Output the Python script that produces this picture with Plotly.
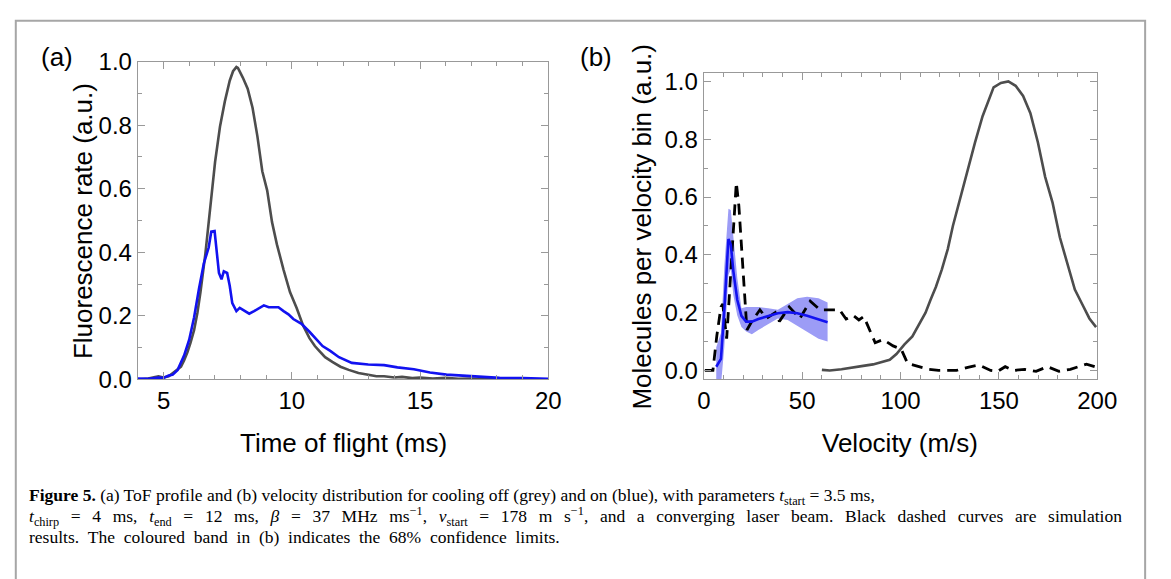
import plotly.graph_objects as go

# ---------------- data ----------------
# (a) time-of-flight profiles
tof_off_t = [4.0, 4.4, 4.8, 5.0, 5.2, 5.36, 5.5, 5.68, 5.8, 5.93, 6.05, 6.19, 6.32, 6.44, 6.63,
             6.82, 7.01, 7.2, 7.39, 7.58, 7.71, 7.84, 7.9, 8.09, 8.28, 8.47, 8.66, 8.85, 9.04,
             9.23, 9.42, 9.68, 9.93, 10.19, 10.44, 10.69, 10.9, 11.07, 11.3, 11.58, 11.9, 12.22,
             12.6, 12.98, 13.3, 13.6, 14.0, 14.3, 14.7, 15.0, 15.5, 16.0, 16.5, 17.0, 17.5,
             18.0, 18.5, 19.0, 19.5, 20.0]
tof_off_y = [0.0, 0.003, 0.01, 0.006, 0.01, 0.02, 0.03, 0.04, 0.06, 0.085, 0.115, 0.155, 0.21,
             0.275, 0.395, 0.545, 0.685, 0.795, 0.875, 0.94, 0.97, 0.983, 0.98, 0.95, 0.915,
             0.855, 0.765, 0.655, 0.595, 0.495, 0.425, 0.345, 0.275, 0.225, 0.17, 0.13, 0.105,
             0.09, 0.07, 0.055, 0.04, 0.03, 0.02, 0.015, 0.01, 0.01, 0.006, 0.008, 0.004, 0.006,
             0.003, 0.005, 0.002, 0.003, 0.001, 0.002, 0.0, 0.001, 0.0, 0.0]

tof_on_t = [4.0, 4.4, 4.8, 5.0, 5.2, 5.36, 5.55, 5.8, 6.0, 6.19, 6.38, 6.57, 6.76, 6.86, 6.99,
            7.07, 7.16, 7.26, 7.35, 7.48, 7.58, 7.68, 7.84, 7.97, 8.15, 8.34, 8.53, 8.72, 8.91,
            9.1, 9.29, 9.48, 9.68, 9.87, 10.06, 10.38, 10.69, 11.2, 11.5, 11.84, 12.34, 12.98,
            13.6, 14.12, 14.76, 15.39, 16.03, 16.66, 17.3, 18.1, 19.0, 20.0]
tof_on_y = [0.003, 0.002, 0.006, 0.005, 0.012, 0.015, 0.03, 0.075, 0.125, 0.195, 0.285, 0.365,
            0.415, 0.465, 0.467, 0.395, 0.335, 0.315, 0.34, 0.335, 0.295, 0.24, 0.215, 0.225,
            0.215, 0.207, 0.215, 0.225, 0.233, 0.227, 0.228, 0.227, 0.215, 0.205, 0.19, 0.175,
            0.15, 0.105, 0.09, 0.07, 0.052, 0.047, 0.045, 0.038, 0.032, 0.022, 0.015, 0.012,
            0.007, 0.005, 0.004, 0.002]

# (b) velocity distributions
vel_off_v = [60, 64, 70, 77, 81, 86, 89.6, 94.5, 97.9, 102, 106, 109.4, 112.7, 115.2, 118, 121,
             124, 126.6, 130.4, 134, 137.9, 141.7, 144.5, 147.3, 151, 154.8, 158.5, 162.3, 166,
             169.8, 173.5, 177.3, 181, 184.8, 188.6, 192.3, 196, 199.4]
vel_off_y = [0.002, 0.0, 0.004, 0.013, 0.016, 0.021, 0.027, 0.037, 0.057, 0.09, 0.118, 0.16, 0.2,
             0.244, 0.29, 0.35, 0.42, 0.5, 0.6, 0.69, 0.79, 0.88, 0.93, 0.98, 0.995, 1.0, 0.985,
             0.95, 0.89, 0.79, 0.67, 0.58, 0.46, 0.37, 0.28, 0.23, 0.18, 0.15]

vel_on_v = [6.3, 8.7, 10.4, 12.5, 13.7, 15.0, 17.0, 19.1, 21.5, 24.4, 27.7, 32.7, 37.6, 42.6,
            47.5, 52.5, 58.3, 62.9]
vel_on_y = [0.013, 0.04, 0.21, 0.455, 0.436, 0.343, 0.244, 0.189, 0.169, 0.169, 0.178, 0.189,
            0.198, 0.202, 0.198, 0.189, 0.176, 0.167]
vel_on_upper = [0.08, 0.13, 0.36, 0.56, 0.555, 0.47, 0.32, 0.215, 0.22, 0.22, 0.22, 0.215, 0.21,
                0.23, 0.25, 0.255, 0.25, 0.235]
vel_on_lower = [-0.05, -0.05, 0.08, 0.33, 0.35, 0.26, 0.19, 0.15, 0.135, 0.125, 0.14, 0.16, 0.18,
                0.175, 0.155, 0.135, 0.11, 0.1]

vel_sim_v = [0.5, 4.6, 6.6, 8.7, 9.6, 11.6, 16.5, 17.8, 21.9, 24.4, 28.5, 31.8, 36.3, 38.4, 43.4,
             48.8, 54.1, 59.1, 64, 69, 72.3, 76, 78.8, 81.3, 87.1, 91.2, 96.2, 100.3, 103.6,
             106.1, 109.4, 114.4, 119.3, 128.4, 134.2, 140, 145.8, 149.4, 153.2, 157.4, 163.1,
             168.9, 174.7, 180.5, 186.3, 194.5, 198.7, 200]
vel_sim_y = [0.0, 0.0, 0.12, 0.22, 0.23, 0.11, 0.65, 0.57, 0.14, 0.17, 0.21, 0.18, 0.2, 0.17,
             0.22, 0.18, 0.24, 0.21, 0.21, 0.21, 0.178, 0.19, 0.175, 0.187, 0.096, 0.107, 0.085,
             0.074, 0.024, 0.019, 0.013, 0.004, 0.0, 0.0, 0.011, 0.019, 0.0, -0.003, 0.013, 0.0,
             0.004, -0.003, 0.013, -0.003, 0.004, 0.022, 0.013, 0.013]

caption_lines = [
    "<b>Figure 5.</b> (a) ToF profile and (b) velocity distribution for cooling off (grey) and on "
    "(blue), with parameters <i>t</i><sub>start</sub> = 3.5 ms,",
    "<i>t</i><sub>chirp</sub> = 4 ms, <i>t</i><sub>end</sub> = 12 ms, <i>β</i> = 37 MHz ms<sup>−1</sup>, "
    "<i>v</i><sub>start</sub> = 178 m s<sup>−1</sup>, and a converging laser beam. Black dashed curves are simulation",
    "results. The coloured band in (b) indicates the 68% confidence limits.",
]

# ---------------- styling ----------------
W, H = 1171, 579
GREY = "#4d4d4d"
BLUE = "#1212f0"
BAND = "#9c9cf6"
FRAME = "#999999"
SANS = "Liberation Sans, Arial, sans-serif"
SERIF = "Liberation Serif, Times New Roman, serif"
# the typeset caption: line 2 is justified (stretched word spacing)
CAPTION_SPACING = [" ", "\u2002\u2006", "\u2002"]


def px(x):
    return x / W


def py(y):
    return 1 - y / H


fig = go.Figure()

# (a)
fig.add_trace(go.Scatter(x=tof_off_t, y=tof_off_y, mode="lines",
                         line=dict(color=GREY, width=2.6), xaxis="x", yaxis="y",
                         name="cooling off"))
fig.add_trace(go.Scatter(x=tof_on_t, y=tof_on_y, mode="lines",
                         line=dict(color=BLUE, width=2.6), xaxis="x", yaxis="y",
                         name="cooling on"))

# (b)
fig.add_trace(go.Scatter(x=vel_on_v, y=vel_on_lower, mode="lines", line=dict(width=0),
                         xaxis="x2", yaxis="y2", showlegend=False, hoverinfo="skip"))
fig.add_trace(go.Scatter(x=vel_on_v, y=vel_on_upper, mode="lines", line=dict(width=0),
                         fill="tonexty", fillcolor=BAND, xaxis="x2", yaxis="y2",
                         name="68% confidence"))
fig.add_trace(go.Scatter(x=vel_off_v, y=vel_off_y, mode="lines",
                         line=dict(color=GREY, width=2.6), xaxis="x2", yaxis="y2",
                         name="cooling off"))
fig.add_trace(go.Scatter(x=vel_sim_v, y=vel_sim_y, mode="lines",
                         line=dict(color="black", width=2.8, dash="11px,7px"),
                         xaxis="x2", yaxis="y2", name="simulation"))
fig.add_trace(go.Scatter(x=vel_on_v, y=vel_on_y, mode="lines",
                         line=dict(color=BLUE, width=2.6), xaxis="x2", yaxis="y2",
                         name="cooling on"))

axis_common = dict(showline=True, linecolor=FRAME, linewidth=1.3, mirror="allticks",
                   ticks="inside", ticklen=7, tickwidth=1, tickcolor=FRAME,
                   showgrid=False, zeroline=False,
                   tickfont=dict(family=SANS, size=24, color="black"))

fig.update_layout(
    width=W, height=H, margin=dict(l=0, r=0, t=0, b=0),
    paper_bgcolor="white", plot_bgcolor="white", showlegend=False,
    xaxis=dict(domain=[px(134), px(554)], range=[4, 20], tick0=0, dtick=5,
               minor=dict(ticks="inside", ticklen=4, dtick=1, tickcolor=FRAME),
               anchor="y", **axis_common),
    yaxis=dict(domain=[py(383.3), py(50)], range=[0, 1], tick0=0, dtick=0.2, tickformat=".1f",
               minor=dict(ticks="inside", ticklen=4, dtick=0.1, tickcolor=FRAME),
               anchor="x", **axis_common),
    xaxis2=dict(domain=[px(713.3), px(1116)], range=[0, 200], tick0=0, dtick=50,
                minor=dict(ticks="inside", ticklen=4, dtick=10, tickcolor=FRAME),
                anchor="y2", **axis_common),
    yaxis2=dict(domain=[py(383.3), py(62)], range=[-0.031, 1.029], tick0=0, dtick=0.2,
                tickformat=".1f",
                minor=dict(ticks="inside", ticklen=4, dtick=0.1, tickcolor=FRAME),
                anchor="x2", **axis_common),
)

# outer figure frame
fig.add_shape(type="rect", xref="paper", yref="paper", x0=px(9), x1=px(1165),
              y0=py(600), y1=py(7), line=dict(color="#a6a6a6", width=2), layer="below")

title_font = dict(family=SANS, size=26, color="black")
ann = [
    dict(text="(a)", x=px(51), y=py(45)),
    dict(text="(b)", x=px(603), y=py(45)),
    dict(text="Fluorescence rate (a.u.)", x=px(78), y=py(217), textangle=-90),
    dict(text="Molecules per velocity bin (a.u.)", x=px(650), y=py(223), textangle=-90),
    dict(text="Time of flight (ms)", x=px(344), y=py(450)),
    dict(text="Velocity (m/s)", x=px(914), y=py(450)),
]
for a in ann:
    fig.add_annotation(xref="paper", yref="paper", showarrow=False, xanchor="center",
                       yanchor="middle", font=title_font, **a)

for i, line in enumerate(caption_lines):
    fig.add_annotation(xref="paper", yref="paper", showarrow=False, xanchor="left",
                       yanchor="middle", x=px(20), y=py(506 + 21.5 * i),
                       text=line.replace(" ", CAPTION_SPACING[i]),
                       font=dict(family=SERIF, size=17.5, color="black"), align="left")

# the page itself should not add any offset around the figure
fig.write_html("out.html", config={"displayModeBar": False},
               post_script="document.body.style.margin='0';document.body.style.padding='0';")
